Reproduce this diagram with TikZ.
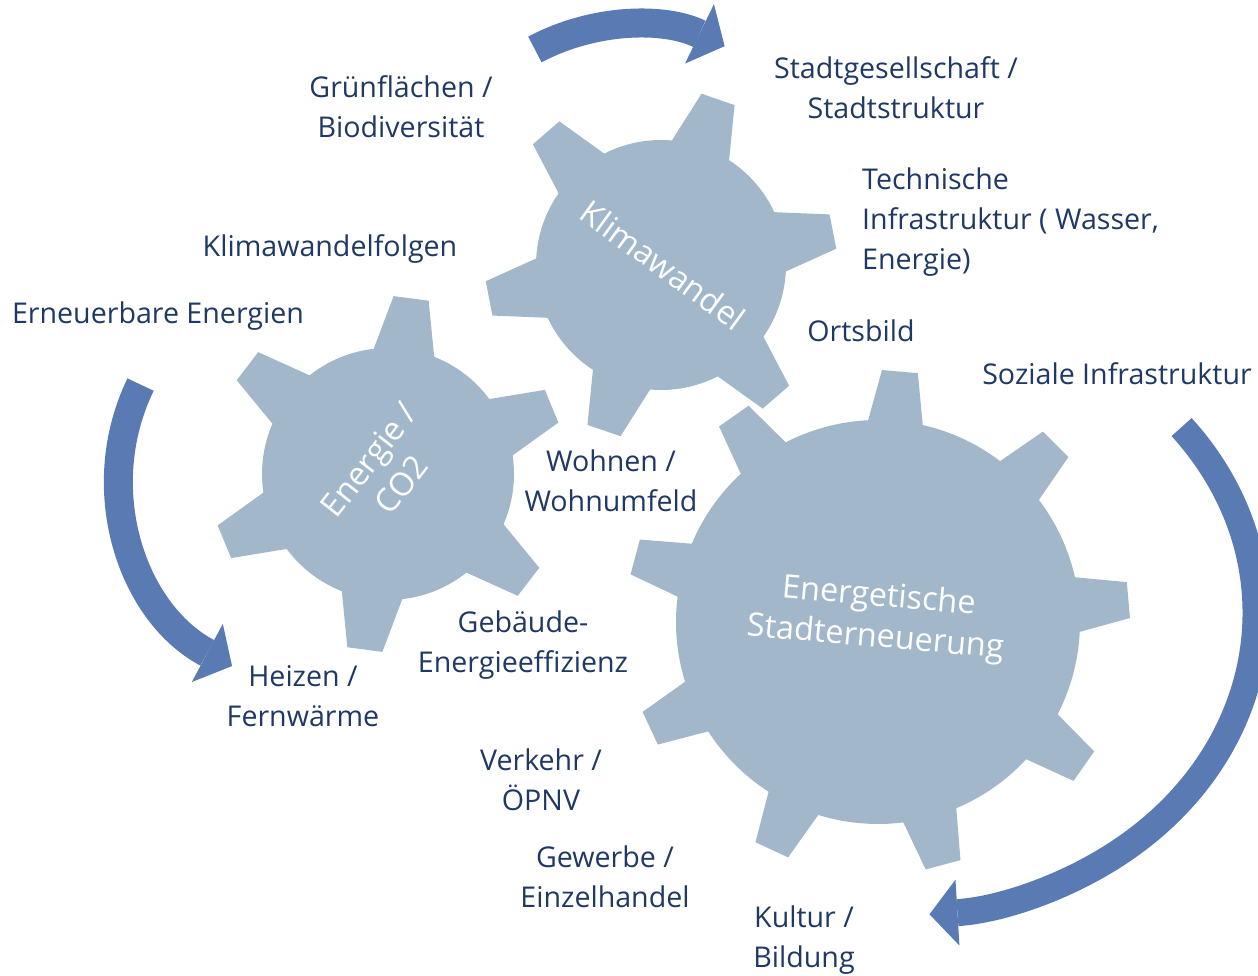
\documentclass[tikz,border=0pt]{standalone}
\usepackage{fontspec}
\setmainfont{Open Sans}
\usetikzlibrary{arrows.meta}
\definecolor{gearblue}{HTML}{A3B7CB}
\definecolor{arrowblue}{HTML}{5A7AB3}
\definecolor{labelblue}{HTML}{1F3864}

% centre, teeth, root radius, tip radius, half angle at root, half angle at tip, turn
\newcommand{\gearwheel}[7]{%
  \pgfmathsetmacro{\gstep}{360/#2}
  \begin{scope}[shift={#1}, rotate=#7]
    \fill[gear] (-#5:#3)
      \foreach \k [evaluate=\k as \a using (\k-1)*\gstep] in {1,...,#2} {
        -- ({\a-#6}:#4) -- ({\a+#6}:#4) -- ({\a+#5}:#3)
        arc[start angle={\a+#5}, end angle={\a+\gstep-#5}, radius=#3]
      } -- cycle;
  \end{scope}}

\begin{document}
\begin{tikzpicture}[x=1pt, y=1pt]
\tikzstyle{gear}=[fill=gearblue]
\tikzstyle{topic}=[text=labelblue, font=\fontsize{28.6}{40}\selectfont, align=center, inner sep=0]
\tikzstyle{hub}=[text=white, font=\fontsize{32.5}{41}\selectfont, align=center, inner sep=0]
\tikzstyle{turn}=[draw=arrowblue, line width=29, -{Triangle[length=28pt, width=66pt, line width=0pt, fill=arrowblue]}]
	\useasboundingbox (0,0) rectangle (1258,976);
	\clip (0,0) rectangle (1258,976);

	\gearwheel{(661,711)}{6}{125}{176}{14}{5.7}{11}
	\gearwheel{(388,502)}{6}{126}{178}{14}{5.7}{22.5}
	\gearwheel{(878,354)}{9}{202}{252}{7.8}{4.1}{5}

	\node[hub, rotate=-36] (klima) at (663,711) {Klimawandel};
	\node[hub, rotate=52] (energie) at (385,504) {Energie /\\CO2};
	\node[hub, rotate=-5] (erneuerung) at (877,358) {Energetische\\Stadterneuerung};

	\node[topic] (gruen) at (401,869) {Grünflächen /\\Biodiversität};
	\node[topic] (stadt) at (896,888) {Stadtgesellschaft /\\Stadtstruktur};
	\node[topic, align=left, anchor=west] (technik) at (862,754) {Technische\\Infrastruktur ( Wasser,\\Energie)};
	\node[topic] (folgen) at (330,727) {Klimawandelfolgen};
	\node[topic] (erneuerbar) at (158,660) {Erneuerbare Energien};
	\node[topic] (ort) at (861,645) {Ortsbild};
	\node[topic] (sozial) at (1117,602) {Soziale Infrastruktur};
	\node[topic] (wohnen) at (611,495) {Wohnen /\\Wohnumfeld};
	\node[topic] (gebaeude) at (523,331) {Gebäude-\\Energieeffizienz};
	\node[topic] (heizen) at (303,280) {Heizen /\\Fernwärme};
	\node[topic] (verkehr) at (541,196) {Verkehr /\\ÖPNV};
	\node[topic] (gewerbe) at (605,99) {Gewerbe /\\Einzelhandel};
	\node[topic] (kultur) at (804,36) {Kultur /\\Bildung};

	\coordinate (topTail) at (534.9,926.5);
	\coordinate (leftTail) at (140.6,591.4);
	\coordinate (rightTail) at (1181.6,548.9);

	\draw[turn] (topTail) arc[start angle=118, end angle=64, radius=209];
	\draw[turn] (leftTail) arc[start angle=154, end angle=242, radius=213];
	\draw[turn, line width=27] (rightTail) arc[start angle=38, end angle=-86, x radius=351, y radius=302];
\end{tikzpicture}
\end{document}
